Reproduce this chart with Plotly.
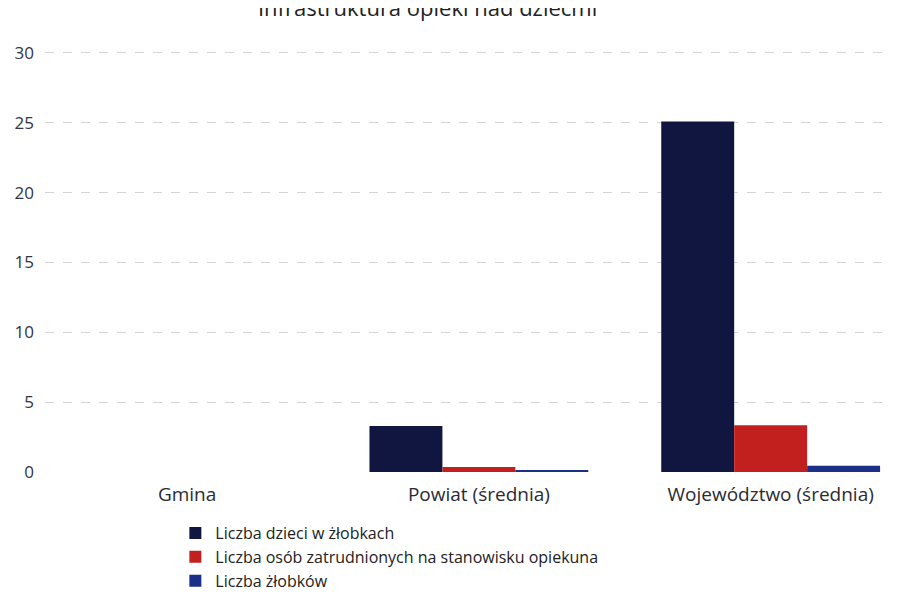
import plotly.graph_objects as go

categories = ["Gmina", "Powiat (średnia)", "Województwo (średnia)"]
series_names = [
    "Liczba dzieci w żłobkach",
    "Liczba osób zatrudnionych na stanowisku opiekuna",
    "Liczba żłobków",
]
dzieci = [0, 3.3, 25.1]
opiekunowie = [0, 0.35, 3.35]
zlobki = [0, 0.1, 0.45]
colors = ["#111640", "#c2201e", "#1c2f86"]
y_ticks = [0, 5, 10, 15, 20, 25, 30]

fig = go.Figure()
for name, vals, col in zip(series_names, [dzieci, opiekunowie, zlobki], colors):
    fig.add_trace(go.Bar(x=categories, y=vals, name=name, marker_color=col,
                         marker_line_width=0))

fig.update_layout(
    width=889, height=586,
    margin=dict(l=37, r=0, t=31, b=122, autoexpand=False),
    paper_bgcolor="white", plot_bgcolor="white",
    barmode="group", bargap=0.25, bargroupgap=0,
    font=dict(family="Open Sans, DejaVu Sans, sans-serif", color="#333333"),
    title=dict(text="Infrastruktura opieki nad dziećmi", x=0.472, xanchor="center",
               y=1.0, yanchor="middle", yref="container",
               font=dict(size=22, color="#222222")),
    xaxis=dict(range=[-0.487, 2.433], showline=False, ticks="",
               ticklabelstandoff=9,
               tickfont=dict(size=19, color="#2a2a33")),
    yaxis=dict(range=[0, 31], tickvals=y_ticks, showgrid=True,
               gridcolor="#d4d4d4", griddash="dash", gridwidth=1,
               zeroline=False, ticks="", ticklabelstandoff=10,
               tickfont=dict(size=17, color="#333344")),
    legend=dict(orientation="v", x=0.153, xanchor="left", y=-0.102, yanchor="top",
                font=dict(size=16, color="#222222"), itemwidth=30,
                tracegroupgap=0, bgcolor="rgba(0,0,0,0)"),
    showlegend=True,
)
fig.write_html("out.html")
